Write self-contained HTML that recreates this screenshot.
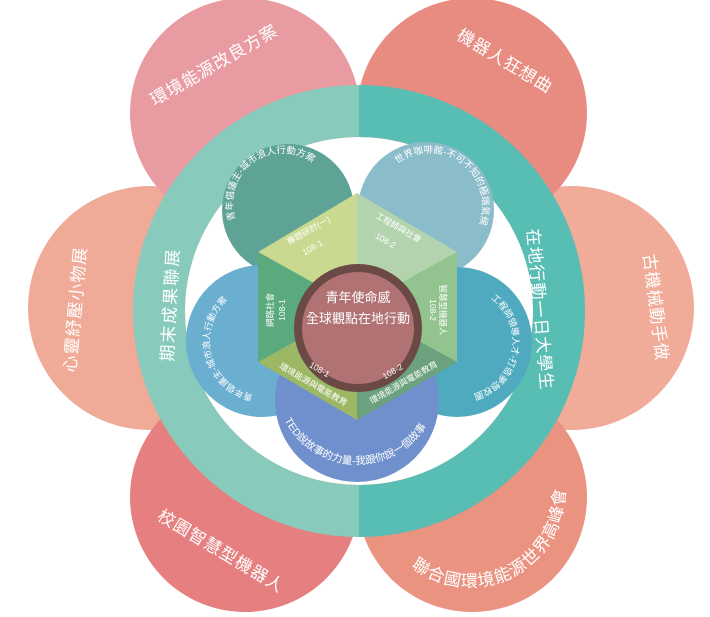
<!DOCTYPE html>
<html><head><meta charset="utf-8"><style>
html,body{margin:0;padding:0;background:#fff;}
svg{display:block;}
text{font-family:"Liberation Sans","Noto Sans CJK TC",sans-serif;fill:#fff;}
</style></head><body>
<svg width="710" height="617" viewBox="0 0 710 617" xmlns="http://www.w3.org/2000/svg">
<defs>
<clipPath id="L"><rect x="0" y="0" width="359" height="617"/></clipPath>
<clipPath id="R"><rect x="359" y="0" width="360" height="617"/></clipPath>
<path id="pBR" d="M402.8,559.2 A95,95 0 0 0 563.8,477.1"/>
<path id="pTL" d="M246,237 A50,50 0 1 1 326,178"/>
<path id="pTR" d="M385,177 A53,53 0 1 1 470,240"/>
<path id="pLF" d="M255,395 A55,55 0 0 1 229,299"/>
<path id="pRT" d="M487,296 A54,54 0 0 1 469,395"/>
<path id="pBT" d="M276,394 A82,82 0 0 0 437,401"/>
</defs>
<!-- outer petals -->
<circle cx="150" cy="308" r="122" fill="#efaa98"/>
<circle cx="572" cy="308" r="122" fill="#f0ab99"/>
<circle cx="245" cy="113" r="115" fill="#e99ba2" clip-path="url(#L)"/>
<circle cx="472" cy="113" r="115" fill="#e88c82" clip-path="url(#R)"/>
<circle cx="245" cy="497" r="115" fill="#e67f7f" clip-path="url(#L)"/>
<circle cx="472" cy="497" r="115" fill="#ea9381" clip-path="url(#R)"/>
<!-- ring -->
<circle cx="359" cy="311" r="174" fill="#fff"/>
<circle cx="359" cy="311" r="200" fill="none" stroke="#88cbbd" stroke-width="52" clip-path="url(#L)"/>
<circle cx="359" cy="311" r="200" fill="none" stroke="#58bdb3" stroke-width="52" clip-path="url(#R)"/>
<!-- inner circles -->
<circle cx="288" cy="210" r="66" fill="#5fa396"/>
<circle cx="426" cy="210" r="68" fill="#8bbcc9"/>
<circle cx="262" cy="341" r="76" fill="#6aaed0"/>
<circle cx="457" cy="342" r="75" fill="#4faabf"/>
<circle cx="357" cy="400" r="82" fill="#6f90cc"/>
<!-- hexagon -->
<polygon points="357,307 357,193 258,252" fill="#c9d98f"/>
<polygon points="357,307 357,193 457,252" fill="#b3d3ae"/>
<polygon points="357,307 457,252 457,362" fill="#93c48f"/>
<polygon points="357,307 457,362 357,420" fill="#6ba27d"/>
<polygon points="357,307 357,420 258,362" fill="#9db865"/>
<polygon points="357,307 258,362 258,252" fill="#5aaa7d"/>
<!-- center -->
<circle cx="358" cy="328" r="60" fill="#b07272" stroke="#6b4a45" stroke-width="8"/>
<text x="358" y="302" font-size="13" text-anchor="middle">青年使命感</text>
<text x="358" y="323" font-size="13" text-anchor="middle">全球觀點在地行動</text>
<!-- hex labels -->
<g font-size="8.5" text-anchor="middle">
<text transform="translate(310,233) rotate(-30)">專題研討(一)</text>
<text transform="translate(314,250) rotate(-30)">108-1</text>
<text transform="translate(397,230) rotate(30)">工程師與社會</text>
<text transform="translate(384,243) rotate(30)">108-2</text>
<text transform="translate(440,310) rotate(90)">智慧型機器人</text>
<text transform="translate(430,310) rotate(90)">108-2</text>
<text transform="translate(405,385) rotate(-30)">環境能源與電能教育</text>
<text transform="translate(394,374) rotate(-30)">108-2</text>
<text transform="translate(312,387) rotate(30)">環境能源與電能教育</text>
<text transform="translate(318,372) rotate(30)">108-1</text>
<text transform="translate(273,310) rotate(-90)">網路社會</text>
<text transform="translate(285,310) rotate(-90)">108-1</text>
</g>
<!-- inner circle labels -->
<text font-size="9.5"><textPath href="#pTL" startOffset="50%" text-anchor="middle">青年倡議主-城市浪人行動方案</textPath></text>
<text font-size="9.5"><textPath href="#pTR" startOffset="50%" text-anchor="middle">世界咖啡館-不可不知的極端氣候</textPath></text>
<text font-size="9"><textPath href="#pLF" startOffset="50%" text-anchor="middle">青年倡議主-城市浪人行動方案</textPath></text>
<text font-size="9"><textPath href="#pRT" startOffset="50%" text-anchor="middle">工程師領導人才-打造夢想校園</textPath></text>
<text font-size="10.5"><textPath href="#pBT" startOffset="50%" text-anchor="middle">TED說故事的力量-我跟你說一個故事</textPath></text>
<!-- ring labels -->
<text font-size="17" text-anchor="middle" letter-spacing="2" transform="translate(176,305) rotate(-87)">期末成果聯展</text>
<text font-size="17" text-anchor="middle" letter-spacing="1" transform="translate(534,310) rotate(85)">在地行動一日大學生</text>
<!-- outer labels -->
<g font-size="17" text-anchor="middle" letter-spacing="1">
<text transform="translate(217,70) rotate(-30)">環境能源改良方案</text>
<text transform="translate(502,66) rotate(31)">機器人狂想曲</text>
<text transform="translate(81,310) rotate(-85)">心靈紓壓小物展</text>
<text transform="translate(650,308) rotate(83)">古機械動手做</text>
<text transform="translate(218,556) rotate(31)">校園智慧型機器人</text>
</g>
<text font-size="17" letter-spacing="1"><textPath href="#pBR" startOffset="50%" text-anchor="middle">聯合國環境能源世界高峰會</textPath></text>
</svg>
</body></html>
